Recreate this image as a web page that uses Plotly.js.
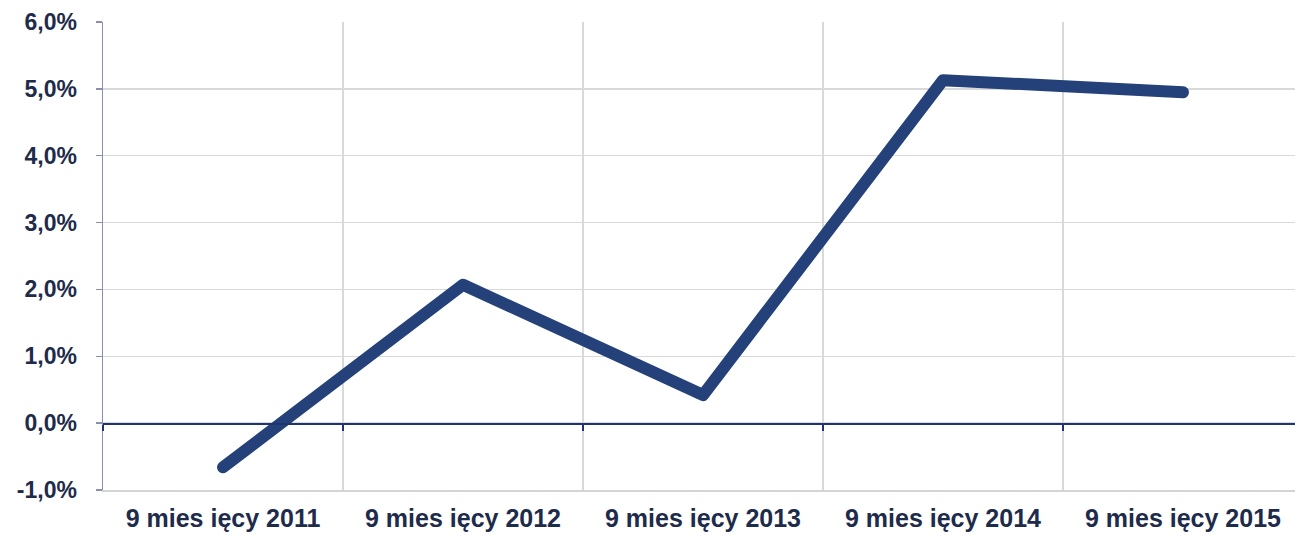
<!DOCTYPE html>
<html>
<head>
<meta charset="utf-8">
<script src="https://cdn.plot.ly/plotly-3.0.1.min.js"></script>
<style>
html,body{margin:0;padding:0;background:#fff;}
#chart{width:1295px;height:536px;}
.scatterlayer path.js-line{stroke-linecap:round;stroke-linejoin:round;}
</style>
</head>
<body>
<div id="chart"></div>
<script>
var categories = ["9 mies ięcy 2011", "9 mies ięcy 2012", "9 mies ięcy 2013", "9 mies ięcy 2014", "9 mies ięcy 2015"];
var values = [-0.66, 2.07, 0.42, 5.13, 4.95];
var yTicks = [-1, 0, 1, 2, 3, 4, 5, 6];
var yTickText = ["-1,0%", "0,0%", "1,0%", "2,0%", "3,0%", "4,0%", "5,0%", "6,0%"];

var fontFamily = "Liberation Sans, Arial, sans-serif";
var xFont = {family: fontFamily, size: 25, color: "#1e2b4a", weight: "bold"};
var yFont = {family: fontFamily, size: 23, color: "#1e2b4a", weight: "bold"};

var traces = [
  {
    x: categories, y: values, type: "scatter", mode: "lines",
    line: {color: "#244179", width: 12, shape: "linear"},
    hoverinfo: "skip", xaxis: "x", yaxis: "y"
  },
  {
    x: categories, y: values, type: "scatter", mode: "lines",
    line: {width: 0}, opacity: 0, hoverinfo: "skip", showlegend: false,
    xaxis: "x2", yaxis: "y"
  }
];

var layout = {
  width: 1295, height: 536,
  margin: {l: 103, r: 0, t: 22, b: 46},
  paper_bgcolor: "#fff", plot_bgcolor: "#fff",
  showlegend: false,
  xaxis: {
    type: "category",
    categoryarray: categories,
    range: [-0.5, 4.4667],
    tickson: "boundaries",
    ticks: "",
    showgrid: true, gridcolor: "#d9d9d9", gridwidth: 1.5,
    showline: true, linecolor: "#d4d4d4", linewidth: 1.5,
    tickfont: xFont,
    ticklabelstandoff: 5,
    zeroline: false
  },
  xaxis2: {
    type: "category",
    categoryarray: categories,
    overlaying: "x",
    anchor: "free",
    position: (0 - yTicks[0]) / (yTicks[yTicks.length - 1] - yTicks[0]),
    range: [-0.5, 4.4667],
    tickson: "boundaries",
    ticks: "outside", ticklen: 6, tickwidth: 1.5, tickcolor: "#1f3570",
    showticklabels: false,
    showgrid: false,
    showline: true, linecolor: "#1f3570", linewidth: 1.5,
    zeroline: false
  },
  yaxis: {
    range: [yTicks[0], yTicks[yTicks.length - 1]],
    tickmode: "array",
    tickvals: yTicks,
    ticktext: yTickText,
    ticks: "outside", ticklen: 6, tickwidth: 1.5, tickcolor: "#8a90a8",
    showline: true, linecolor: "#8a90a8", linewidth: 1.5,
    showgrid: true, gridcolor: "#d9d9d9", gridwidth: 1.5,
    zeroline: false,
    tickfont: yFont,
    ticklabelstandoff: 14
  }
};

Plotly.newPlot("chart", traces, layout, {displayModeBar: false, staticPlot: true});
</script>
</body>
</html>
